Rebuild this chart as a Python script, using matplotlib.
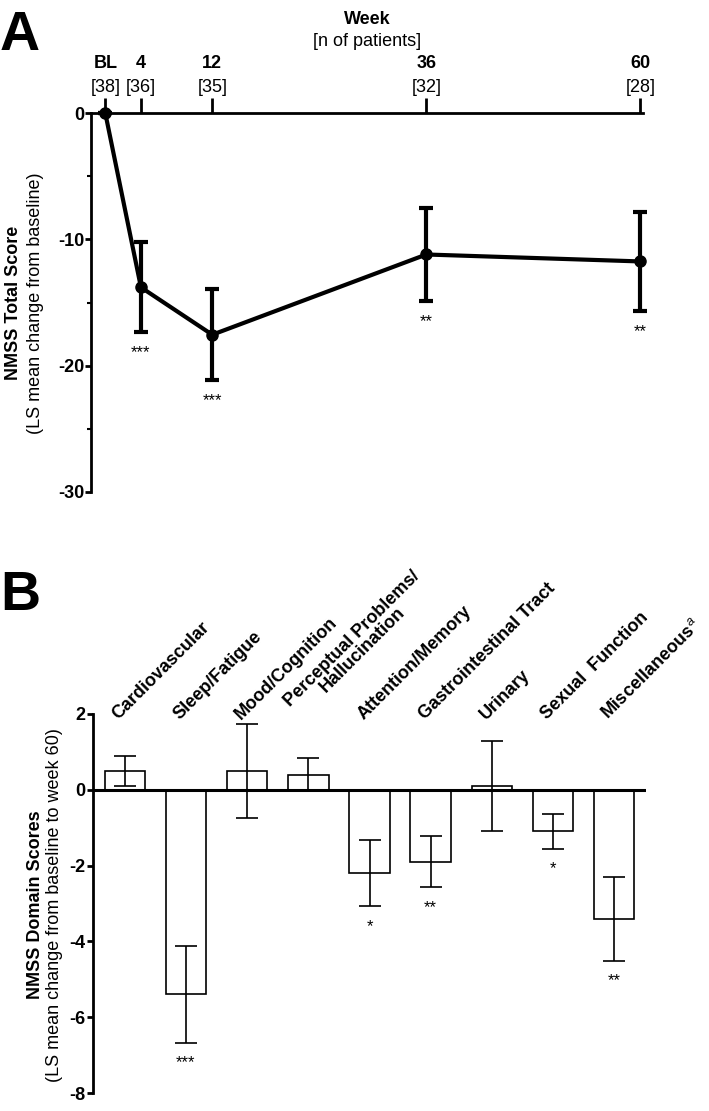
import matplotlib
matplotlib.use("Agg")
import matplotlib.pyplot as plt

plt.rcParams['font.family'] = ['Liberation Sans', 'DejaVu Sans']
plt.rcParams['axes.unicode_minus'] = False
plt.rcParams['mathtext.fontset'] = 'custom'
plt.rcParams['mathtext.it'] = 'Liberation Sans:italic'

## Panel A: NMSS total score over time
weeks = [0, 4, 12, 36, 60]
week_labels = ['BL', '4', '12', '36', '60']
n_patients = [38, 36, 35, 32, 28]
total_mean = [0.0, -13.8, -17.55, -11.2, -11.75]
total_err = [0.0, 3.55, 3.6, 3.7, 3.95]
total_sig = ['', '***', '***', '**', '**']

## Panel B: domain scores, baseline to week 60
domains = ['Cardiovascular', 'Sleep/Fatigue', 'Mood/Cognition',
           'Perceptual Problems/\nHallucination', 'Attention/Memory',
           'Gastrointestinal Tract', 'Urinary', 'Sexual  Function',
           r'Miscellaneous$^{\,a}$']
domain_mean = [0.5, -5.4, 0.5, 0.4, -2.2, -1.9, 0.1, -1.1, -3.4]
domain_err = [0.4, 1.28, 1.24, 0.43, 0.87, 0.67, 1.18, 0.46, 1.11]
domain_sig = ['', '***', '', '', '*', '**', '', '*', '**']

W, H = 709, 1111
fig = plt.figure(figsize=(W / 100, H / 100), dpi=100)

# ---------------- panel A ----------------
axA = fig.add_axes([91 / W, 1 - 492 / H, 552 / W, 379 / H])
axA.plot(weeks, total_mean, color='black', lw=3, marker='o', ms=8, zorder=4, clip_on=False)
axA.errorbar(weeks, total_mean, yerr=total_err, fmt='none', ecolor='black',
             elinewidth=3, capsize=5, capthick=3, zorder=3, clip_on=False)
for w, m, e, s in zip(weeks, total_mean, total_err, total_sig):
    if s:
        axA.annotate(s, xy=(w, m - e), xytext=(0, -9), textcoords='offset points',
                     ha='center', va='top', fontsize=12)

axA.set_xlim(-1.6, 60.3)
axA.set_ylim(-30, 0)
for side in ['right', 'bottom']:
    axA.spines[side].set_visible(False)
axA.spines['top'].set_linewidth(2)
axA.spines['left'].set_linewidth(2)

axA.xaxis.tick_top()
axA.set_xticks(weeks)
axA.set_xticklabels([f'[{n}]' for n in n_patients])
axA.tick_params(axis='x', direction='out', length=11, width=2, pad=1, labelsize=13)
for w, lab in zip(weeks, week_labels):
    axA.annotate(lab, xy=(w, 1), xycoords=('data', 'axes fraction'), xytext=(0, 36),
                 textcoords='offset points', ha='center', va='center',
                 fontsize=13, fontweight='bold')

axA.set_yticks([0, -10, -20, -30])
axA.set_yticks([-5, -15, -25], minor=True)
axA.tick_params(axis='y', which='major', direction='out', length=4, width=2, pad=1, labelsize=13)
axA.tick_params(axis='y', which='minor', direction='out', length=3, width=1.5)
for t in axA.get_yticklabels():
    t.set_fontweight('bold')

fig.text(367 / W, 1 - 19 / H, 'Week', ha='center', va='center', fontsize=13, fontweight='bold')
fig.text(367 / W, 1 - 42 / H, '[n of patients]', ha='center', va='center', fontsize=13)
fig.text(14 / W, 1 - 303 / H, 'NMSS Total Score', rotation=90, ha='center', va='center',
         fontsize=13, fontweight='bold')
fig.text(36 / W, 1 - 303 / H, '(LS mean change from baseline)', rotation=90, ha='center',
         va='center', fontsize=13)
fig.text(0, 1 - 50 / H, 'A', fontsize=40, fontweight='bold', va='baseline')

# ---------------- panel B ----------------
axB = fig.add_axes([93 / W, 1 - 1093 / H, 553 / W, 379 / H])
pos = list(range(len(domains)))
axB.bar(pos, domain_mean, width=0.66, color='white', edgecolor='black', lw=1.2, zorder=2)
axB.errorbar(pos, domain_mean, yerr=domain_err, fmt='none', ecolor='black',
             elinewidth=1.2, capsize=8, capthick=1.2, zorder=3)
axB.axhline(0, color='black', lw=2.2, zorder=4)
for p, m, e, s in zip(pos, domain_mean, domain_err, domain_sig):
    if s:
        axB.annotate(s, xy=(p, m - e), xytext=(0, -9), textcoords='offset points',
                     ha='center', va='top', fontsize=12)
for p, lab in zip(pos, domains):
    axB.text(p - 0.1, 1.85, lab, rotation=45, rotation_mode='anchor', ha='left',
             va='baseline', fontsize=13, fontweight='bold', multialignment='center',
             linespacing=0.85)

axB.set_xlim(-0.52, 8.52)
axB.set_ylim(-8, 2)
for side in ['right', 'bottom', 'top']:
    axB.spines[side].set_visible(False)
axB.spines['left'].set_linewidth(2)
axB.set_xticks([])
axB.set_yticks([2, 0, -2, -4, -6, -8])
axB.tick_params(axis='y', direction='out', length=4, width=2, pad=1.5, labelsize=13)
for t in axB.get_yticklabels():
    t.set_fontweight('bold')

fig.text(36 / W, 1 - 905 / H, 'NMSS Domain Scores', rotation=90, ha='center', va='center',
         fontsize=13, fontweight='bold')
fig.text(55 / W, 1 - 905 / H, '(LS mean change from baseline to week 60)', rotation=90,
         ha='center', va='center', fontsize=13)
fig.text(0, 1 - 610 / H, 'B', fontsize=40, fontweight='bold', va='baseline')

fig.savefig('out.png', dpi=100)
